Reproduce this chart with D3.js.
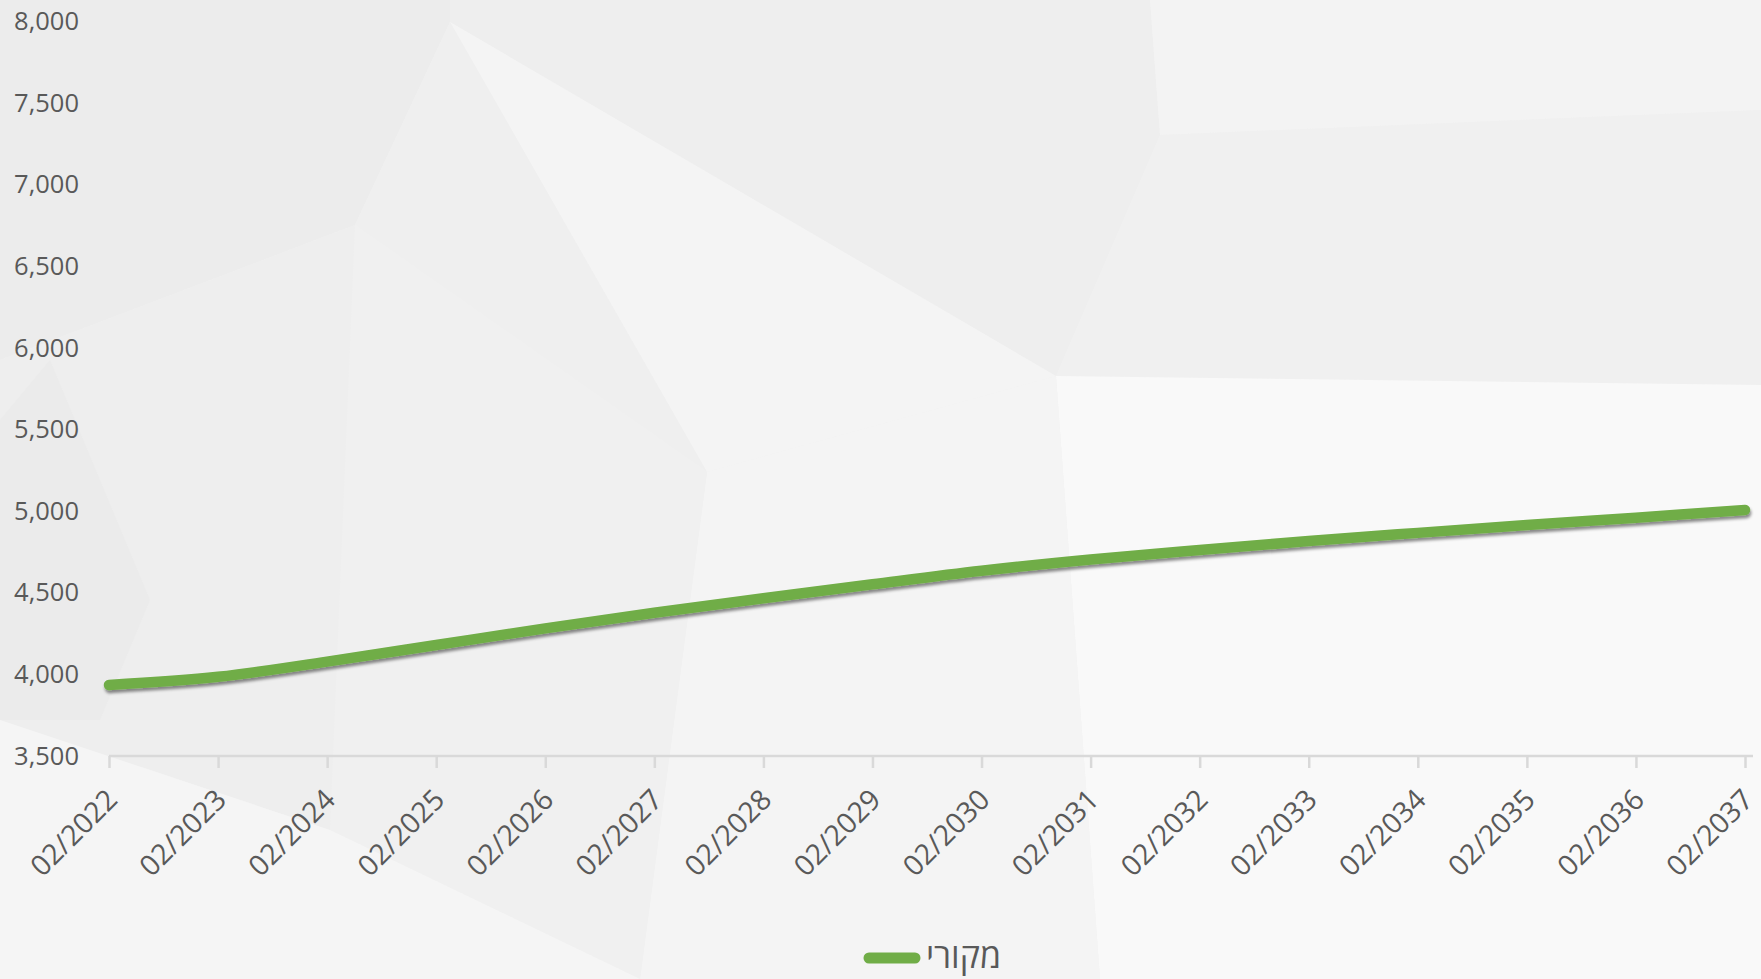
<!DOCTYPE html>
<html lang="he">
<head>
<meta charset="utf-8">
<script src="https://cdn.jsdelivr.net/npm/d3@7"></script>
<style>
  html, body { margin: 0; padding: 0; background: #f2f2f2; }
  svg { display: block; }
  text { font-family: "Open Sans", "Noto Sans", "DejaVu Sans", sans-serif; fill: #595959; }
</style>
</head>
<body>
<svg id="chart" width="1761" height="979"></svg>
<script>
// Categories (Feb of each year) and the projected series
const categories = ["02/2022","02/2023","02/2024","02/2025","02/2026","02/2027","02/2028","02/2029",
                    "02/2030","02/2031","02/2032","02/2033","02/2034","02/2035","02/2036","02/2037"];
const seriesName = "מקורי";
const seriesValues = [3935, 3985, 4078, 4180, 4282, 4378, 4466, 4552,
                      4635, 4704, 4762, 4817, 4867, 4915, 4960, 5007];
const yTicks = [3500, 4000, 4500, 5000, 5500, 6000, 6500, 7000, 7500, 8000];

const W = 1761, H = 979;
const plot = { left: 109, right: 1745, top: 21.5, bottom: 756 };
const green = "#70ad47";

const svg = d3.select("#chart");
const defs = svg.append("defs");

const shadow = defs.append("filter").attr("id", "lineShadow")
  .attr("x", "-5%").attr("y", "-50%").attr("width", "110%").attr("height", "200%");
shadow.append("feDropShadow").attr("dx", 1).attr("dy", 3).attr("stdDeviation", 1.8)
  .attr("flood-color", "#000").attr("flood-opacity", 0.45);

// Low-poly background facets
svg.append("rect").attr("width", W).attr("height", H).attr("fill", "#f1f1f1");
const facets = [
  { pts: [[0,0],[450,0],[450,22],[355,225],[0,360]], fill: "#ececec" },
  { pts: [[450,0],[1150,0],[1160,135],[1056,376],[450,22]], fill: "#eeeeee" },
  { pts: [[450,22],[1056,376],[707,472]], fill: "#f4f4f4" },
  { pts: [[450,22],[707,472],[355,225]], fill: "#efefef" },
  { pts: [[1150,0],[1761,0],[1761,110],[1160,135]], fill: "#f3f3f3" },
  { pts: [[1160,135],[1761,110],[1761,385],[1056,376]], fill: "#f0f0f0" },
  { pts: [[1056,376],[1761,385],[1761,979],[1100,979]], fill: "#f9f9f9" },
  { pts: [[707,472],[1056,376],[1100,979],[640,979]], fill: "#f4f4f4" },
  { pts: [[355,225],[707,472],[640,979],[330,830]], fill: "#f0f0f0" },
  { pts: [[0,360],[355,225],[330,830],[0,720]], fill: "#eeeeee" },
  { pts: [[0,720],[330,830],[640,979],[0,979]], fill: "#f5f5f5" },
  { pts: [[50,360],[150,600],[100,720],[0,720],[0,420]], fill: "#ebebeb" }
];
svg.append("g").selectAll("polygon").data(facets).join("polygon")
  .attr("points", d => d.pts.map(p => p.join(",")).join(" "))
  .attr("fill", d => d.fill);

// Scales
const x = d3.scalePoint().domain(categories).range([plot.left, plot.right]);
const y = d3.scaleLinear().domain([3500, 8000]).range([plot.bottom, plot.top]);

// Y axis: labels only
const yAxis = svg.append("g").attr("transform", `translate(${plot.left - 30},0)`)
  .call(d3.axisLeft(y).tickValues(yTicks).tickFormat(d3.format(",")).tickSize(0).tickPadding(0));
yAxis.select(".domain").remove();
yAxis.selectAll("text").attr("font-size", 25.5).attr("fill", "#505050")
  .attr("font-family", "'Open Sans', 'Noto Sans', sans-serif");

// X axis: baseline, downward ticks, rotated labels
const xAxis = svg.append("g").attr("transform", `translate(0,${plot.bottom})`)
  .call(d3.axisBottom(x).tickSize(12).tickSizeOuter(0).tickPadding(0));
xAxis.select(".domain").attr("stroke", "#d9d9d9").attr("stroke-width", 2.5)
  .attr("d", `M${plot.left},0H${plot.right + 8}`);
xAxis.selectAll(".tick line").attr("stroke", "#d9d9d9").attr("stroke-width", 2.5);
xAxis.selectAll(".tick text")
  .attr("font-size", 28.5).attr("fill", "#505050")
  .attr("font-family", "'Open Sans', 'Noto Sans', sans-serif")
  .attr("text-anchor", "end").attr("dy", null)
  .attr("transform", "translate(1,37) rotate(-45)");

// Series line
const line = d3.line()
  .x((d, i) => x(categories[i]))
  .y(d => y(d))
  .curve(d3.curveCatmullRom.alpha(0.5));
svg.append("path").datum(seriesValues)
  .attr("d", line)
  .attr("fill", "none").attr("stroke", green).attr("stroke-width", 10.5)
  .attr("stroke-linecap", "round").attr("stroke-linejoin", "round")
  .attr("filter", "url(#lineShadow)");

// Legend: swatch on the left, Hebrew series name right-aligned after it
const legend = svg.append("g").attr("transform", "translate(0,958)");
legend.append("line").attr("x1", 869).attr("x2", 915).attr("y1", 0).attr("y2", 0)
  .attr("stroke", green).attr("stroke-width", 11).attr("stroke-linecap", "round");
legend.append("text").attr("x", 1001).attr("y", 10)
  .attr("font-size", 34).attr("text-anchor", "end").attr("fill", "#505050").text(seriesName);
</script>
</body>
</html>
